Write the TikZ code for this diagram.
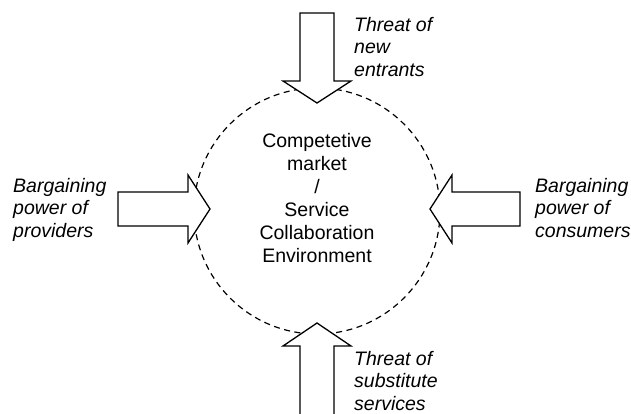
\documentclass[tikz,border=0pt]{standalone}
\usepackage{fontspec}
\setmainfont{Liberation Sans}
\begin{document}
\begin{tikzpicture}[x=1pt,y=-1pt,
  force/.style={draw=black,fill=white,line width=1.3pt,line join=miter},
  field/.style={draw=black,line width=1.2pt,dash pattern=on 6pt off 4.5pt},
  label/.style={inner sep=0pt,align=left,anchor=base west,
    font=\fontsize{19.5}{22.5}\selectfont\itshape},
  core/.style={inner sep=0pt,align=center,anchor=base,
    font=\fontsize{19.5}{23}\selectfont}]
  \useasboundingbox (0,0) rectangle (631,413);

  % market field
  \draw[field] (317,211) circle[radius=123];

  % the four forces as block arrows
  \draw[force] (300,13) -- (334,13) -- (334,81) -- (351,81) -- (317,103)
    -- (283,81) -- (300,81) -- cycle;
  \draw[force] (317,323) -- (351,346) -- (334,346) -- (334,420)
    -- (300,420) -- (300,346) -- (283,346) -- cycle;
  \draw[force] (118,192) -- (188,192) -- (188,175) -- (210,209)
    -- (188,243) -- (188,226) -- (118,226) -- cycle;
  \draw[force] (430,209) -- (452,175) -- (452,192) -- (520,192)
    -- (520,226) -- (452,226) -- (452,243) -- cycle;

  % labels (anchored at the baseline of their last line)
  \node[label] (entrants) at (354,76) {Threat of\\new\\entrants};
  \node[label] (substitutes) at (354,410) {Threat of\\substitute\\services};
  \node[label] (providers) at (13,237) {Bargaining\\power of\\providers};
  \node[label] (consumers) at (535,237) {Bargaining\\power of\\consumers};
  \node[core] (market) at (317,262)
    {Competetive\\market\\/\\Service\\Collaboration\\Environment};
\end{tikzpicture}
\end{document}
